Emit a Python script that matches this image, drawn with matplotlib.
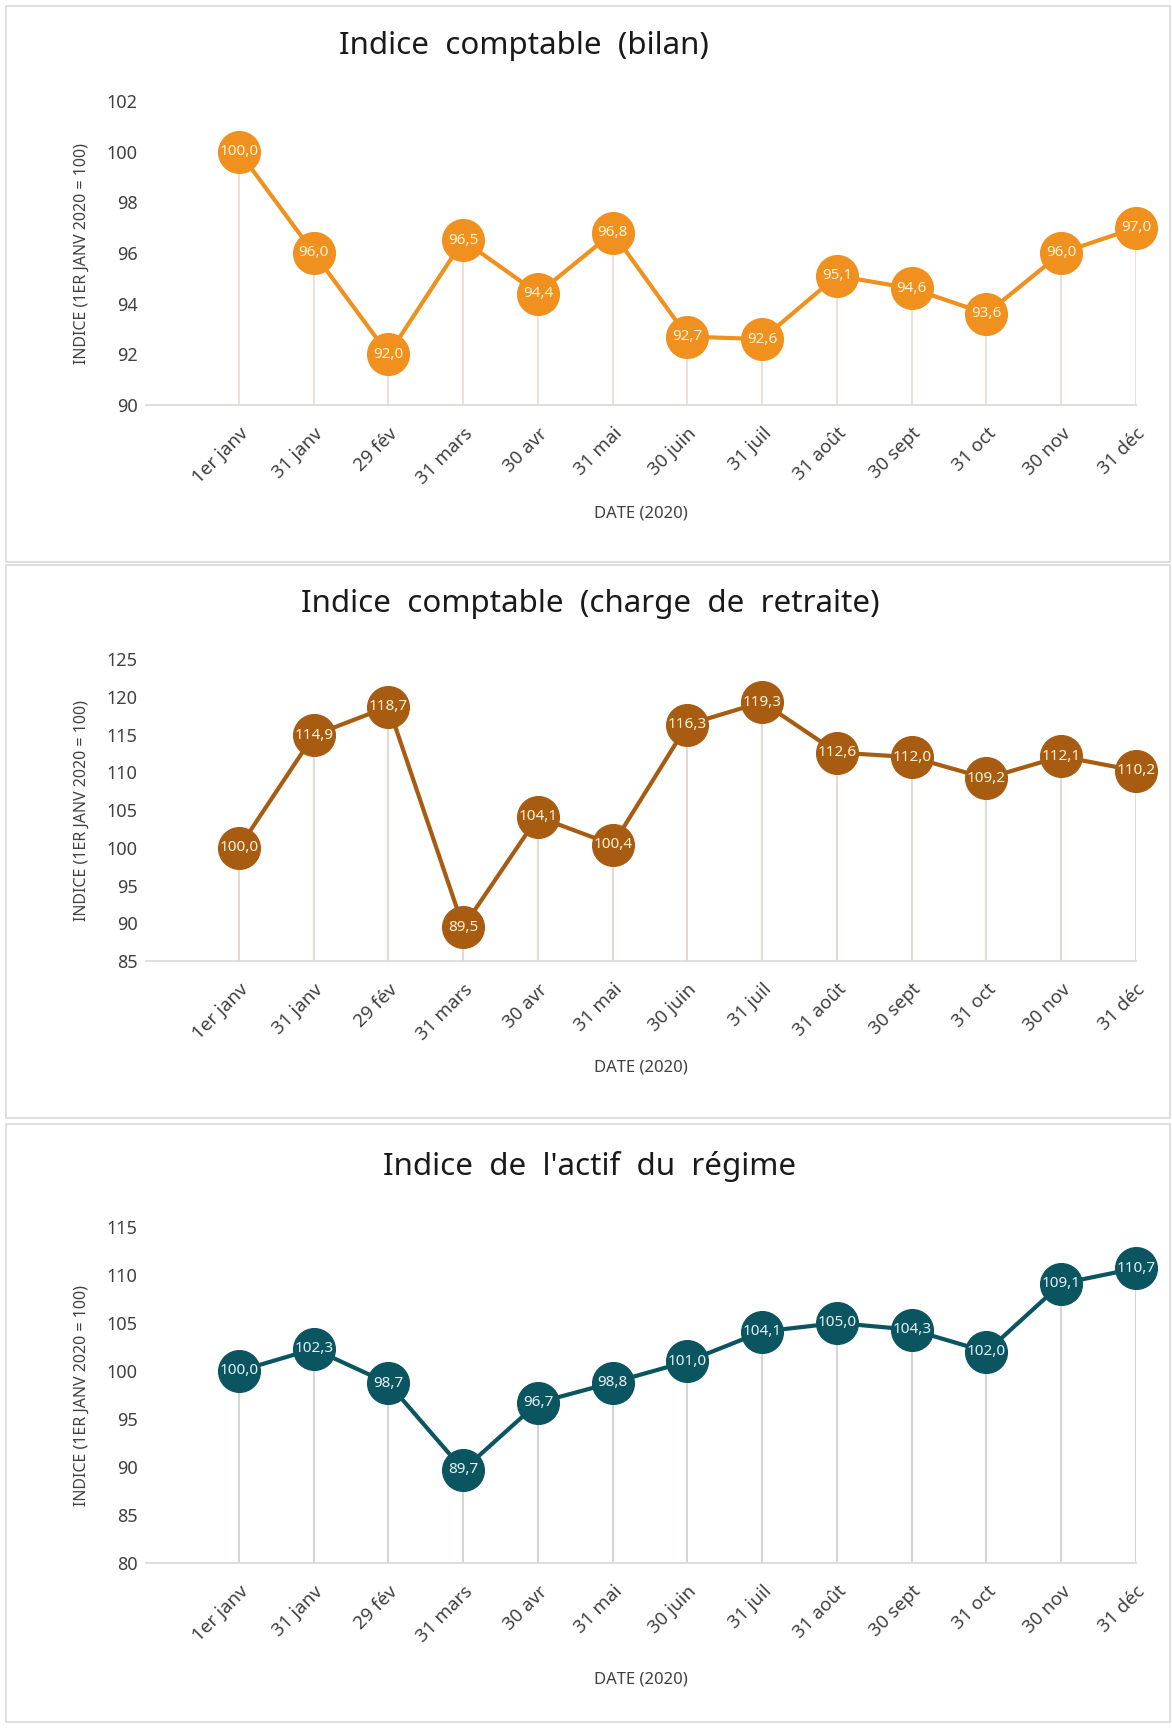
import matplotlib
matplotlib.use("Agg")
import matplotlib.pyplot as plt
from matplotlib.patches import Rectangle

plt.rcParams['font.family'] = ['Noto Sans', 'DejaVu Sans']

# Données (indices 2020, base 1er janv = 100)
dates = ["1er janv", "31 janv", "29 fév", "31 mars", "30 avr", "31 mai", "30 juin",
         "31 juil", "31 août", "30 sept", "31 oct", "30 nov", "31 déc"]
bilan = [100.0, 96.0, 92.0, 96.5, 94.4, 96.8, 92.7, 92.6, 95.1, 94.6, 93.6, 96.0, 97.0]
charge_retraite = [100.0, 114.9, 118.7, 89.5, 104.1, 100.4, 116.3, 119.3, 112.6, 112.0, 109.2, 112.1, 110.2]
actif_regime = [100.0, 102.3, 98.7, 89.7, 96.7, 98.8, 101.0, 104.1, 105.0, 104.3, 102.0, 109.1, 110.7]

titles = ["Indice  comptable  (bilan)",
          "Indice  comptable  (charge  de  retraite)",
          "Indice  de  l'actif  du  régime"]
y_ticks = [list(range(90, 103, 2)), list(range(85, 126, 5)), list(range(80, 116, 5))]

W, H = 1172, 1728
fig = plt.figure(figsize=(W / 100, H / 100), dpi=100)


def fx(px):
    return px / W


def fy(py):
    return 1 - py / H


# cadres des trois panneaux
for top, bot in [(6, 562), (565, 1118), (1124, 1722)]:
    fig.patches.append(Rectangle((fx(6), fy(bot)), fx(1164), (bot - top) / H,
                                 transform=fig.transFigure, fill=False,
                                 edgecolor="#D9D9D9", linewidth=1.2))

panels = [
    # series, color, label color, drop color, axes px (top, bottom), title (x, y), date y
    (bilan, "#F0901E", "#FFF3D6", "#E9DCCF", (101, 405), (524, 46), 514),
    (charge_retraite, "#A85C12", "#FFF3D6", "#DDD3C5", (659, 961), (590, 604), 1068),
    (actif_regime, "#0B5560", "#E2F2F8", "#C8CFD0", (1227, 1563), (590, 1166), 1680),
]

x = list(range(len(dates)))
for i, (vals, col, lcol, dcol, (top, bot), (tx, ty), dy) in enumerate(panels):
    ax = fig.add_axes([fx(146), fy(bot), fx(990), (bot - top) / H])
    ax.vlines(x, y_ticks[i][0], vals, color=dcol, linewidth=1.2, zorder=1)
    ax.plot(x, vals, color=col, linewidth=3, marker="o", markersize=30,
            markeredgecolor=col, clip_on=False, zorder=3)
    for xi, v in zip(x, vals):
        ax.text(xi, v, f"{v:.1f}".replace(".", ","), ha="center", va="center",
                fontsize=11, color=lcol, zorder=4)
    ax.set_xlim(-1.244, 12)
    ax.set_ylim(y_ticks[i][0], y_ticks[i][-1])
    ax.set_yticks(y_ticks[i])
    ax.set_xticks(x)
    ax.set_xticklabels(dates, rotation=45, ha="right", rotation_mode="anchor")
    ax.tick_params(axis="x", length=0, pad=14, labelsize=13.5, colors="#404040")
    ax.tick_params(axis="y", length=0, pad=6, labelsize=13, colors="#404040")
    for s in ["top", "right", "left"]:
        ax.spines[s].set_visible(False)
    ax.spines["bottom"].set_color("#D9D9D9")
    ax.spines["bottom"].set_linewidth(1.2)
    ax.set_ylabel("INDICE (1ER JANV 2020 = 100)", fontsize=11.5, color="#404040", labelpad=12)
    fig.text(fx(tx), fy(ty), titles[i], ha="center", va="center", fontsize=22.5, color="#1A1A1A")
    fig.text(fx(641), fy(dy), "DATE (2020)", ha="center", va="center", fontsize=12, color="#404040")

fig.savefig("out.png", dpi=100)
